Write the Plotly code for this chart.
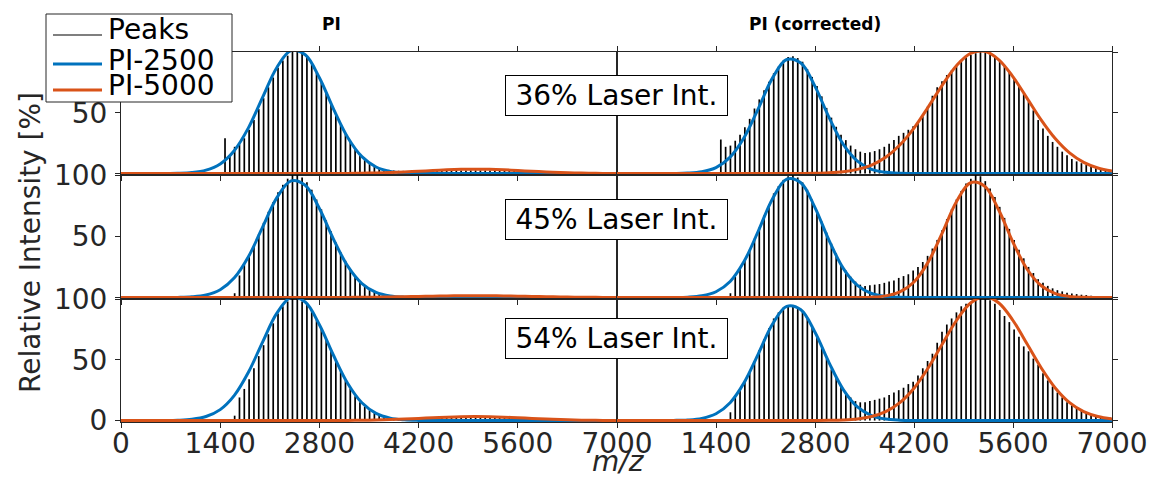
import plotly.graph_objects as go

# ---------------- data ----------------
mz = [1468, 1536, 1604, 1672, 1740, 1808, 1876, 1944, 2012, 2080,
      2148, 2216, 2284, 2352, 2420, 2488, 2556, 2624, 2692, 2760,
      2828, 2896, 2964, 3032, 3100, 3168, 3236, 3304, 3372, 3440,
      3508, 3576, 3644, 3712, 3780, 3848, 3916, 3984, 4052, 4120,
      4188, 4256, 4324, 4392, 4460, 4528, 4596, 4664, 4732, 4800,
      4868, 4936, 5004, 5072, 5140, 5208, 5276, 5344, 5412, 5480,
      5548, 5616, 5684, 5752, 5820, 5888, 5956, 6024, 6092, 6160,
      6228, 6296, 6364, 6432, 6500, 6568, 6636, 6704, 6772, 6840,
      6908, 6976]

peaks_36_pi = [29, 15, 22, 24, 29, 36, 44, 53, 62, 71,
               79, 87, 93, 97, 100, 100, 99, 96, 90, 83,
               75, 67, 58, 49, 41, 33, 26, 20.5, 15.5, 11.5,
               8.5, 6.2, 4.5, 3.5, 3, 2.5, 2.3, 2.2, 2, 2,
               2, 2.1, 2.2, 2.3, 2.4, 2.4, 2.5, 2.5, 2.6, 2.6,
               2.6, 2.6, 2.6, 2.6, 2.5, 2.5, 2.5, 2.4, 2.4, 2.3,
               2.2, 2.1, 2, 1.9, 1.8, 1.6, 0, 0, 0, 0,
               0, 0, 0, 0, 0, 0, 0, 0, 0, 0,
               0, 0]
peaks_36_cor = [28, 22, 23, 27, 32, 38, 45, 53.5, 61, 68.5,
                75.5, 82.5, 88, 93, 95.8, 96.5, 95, 92, 86, 79.5,
                72, 63.5, 54, 46, 38.5, 32, 27.5, 23, 20, 18,
                17, 17.5, 18.5, 20, 22, 24.5, 27.5, 31, 33.5, 36,
                39, 42, 47, 55, 64, 71, 76, 81, 85, 89,
                93, 95.5, 97.5, 99, 100, 99.5, 98, 96, 93, 89,
                84, 78, 72, 66, 59, 52, 44, 37, 31, 26,
                22, 18, 15, 12, 10, 8.5, 7, 6, 5, 4,
                3.5, 3]
peaks_45_pi = [0, 0, 3.5, 18, 27, 35, 43, 52, 61, 70,
               78, 86, 92, 97, 100, 100, 98, 94, 88, 80,
               72, 63, 54, 45, 37, 30, 23, 18, 13, 10,
               7, 5, 3.5, 2.5, 1.8, 1.2, 0, 0, 0, 0,
               0, 0, 0, 0, 0, 0, 0, 0, 0, 0,
               0, 0, 0, 0, 0, 0, 0, 0, 0, 0,
               0, 0, 0, 0, 0, 0, 0, 0, 0, 0,
               0, 0, 0, 0, 0, 0, 0, 0, 0, 0,
               0, 0]
peaks_45_cor = [0, 0, 3.5, 17, 24, 31, 39, 48, 57, 67,
                76, 85, 91, 96, 99, 100, 98, 94, 88, 80,
                71, 62, 53, 44, 36, 28, 22, 17, 13, 10.5,
                9.5, 10, 10.5, 11, 12, 13, 14, 16, 17.5, 19,
                22, 25, 29, 34, 40, 47, 55, 64, 72, 80,
                87, 93, 97, 100, 99, 95, 89, 82, 74, 65,
                56, 47, 39, 32, 25, 20, 15, 12, 9.5, 7.5,
                6, 5, 4, 3.3, 2.8, 2.3, 2, 1.5, 0, 0,
                0, 0]
peaks_54_pi = [0, 0, 4, 19, 26, 34, 43, 53, 62, 71,
               80, 88, 94, 98, 100, 100, 98, 95, 90, 83,
               76, 67, 58, 49, 41, 33, 26, 20, 15, 11.5,
               8.5, 6, 4.5, 3.2, 2.5, 2, 1.8, 1.6, 1.5, 1.5,
               1.5, 1.8, 2, 2.1, 2.2, 2.3, 2.4, 2.4, 2.5, 2.5,
               2.5, 2.5, 2.5, 2.5, 2.4, 2.4, 2.3, 2.3, 2.2, 2.1,
               2, 1.9, 1.8, 1.7, 1.6, 1.5, 0, 0, 0, 0,
               0, 0, 0, 0, 0, 0, 0, 0, 0, 0,
               0, 0]
peaks_54_cor = [0, 0, 6.8, 20, 25, 32, 40, 49, 58, 67,
                76, 84, 89, 93, 95, 95, 93, 90, 84, 77,
                69, 60, 51, 42, 35, 28, 23, 19, 16, 15,
                15, 16, 17, 18, 19, 21, 23, 25, 27, 30,
                32, 37, 43, 49, 55, 64, 73, 79, 84, 89,
                94, 96, 97, 99, 100, 100, 99, 96, 91, 86,
                81, 75, 69, 61, 57, 51, 46, 39, 33, 28,
                23, 19, 15, 12.5, 10, 8, 6, 5, 4.2, 3.4,
                2.8, 2.4]

# fitted curves, read every 200 m/z
cx = [0, 200, 400, 600, 800, 1000, 1200, 1400, 1600, 1800,
      2000, 2200, 2400, 2600, 2800, 3000, 3200, 3400, 3600, 3800,
      4000, 4200, 4400, 4600, 4800, 5000, 5200, 5400, 5600, 5800,
      6000, 6200, 6400, 6600, 6800, 7000]

fit2500_36_pi = [0, 0, 0.01, 0.04, 0.2, 0.8, 2.8, 7.9, 19, 37.8,
                 62.9, 87.3, 101.1, 97.7, 78.8, 53, 29.7, 13.9, 5.4, 1.8,
                 0.5, 0.1, 0, 0, 0, 0, 0, 0, 0, 0,
                 0, 0, 0, 0, 0, 0]
fit5000_36_pi = [0, 0, 0, 0, 0, 0, 0, 0, 0, 0,
                 0, 0, 0, 0, 0, 0.06, 0.13, 0.26, 0.49, 0.83,
                 1.3, 1.87, 2.49, 3.06, 3.46, 3.6, 3.46, 3.06, 2.49, 1.87,
                 1.3, 0.83, 0.49, 0.26, 0.13, 0.06]
fit2500_36_cor = [0, 0, 0, 0.01, 0.07, 0.36, 1.5, 4.9, 13.5, 29.8,
                  53.7, 78.7, 93.8, 90.9, 71.7, 46, 24, 10.2, 3.5, 1.0,
                  0.2, 0.04, 0, 0, 0, 0, 0, 0, 0, 0,
                  0, 0, 0, 0, 0, 0]
fit5000_36_cor = [0, 0, 0, 0, 0, 0, 0, 0, 0, 0,
                  0, 0, 0.02, 0.07, 0.2, 0.6, 1.5, 3.4, 7.0, 13.4,
                  23.5, 37.4, 54.6, 72.8, 88.7, 98.8, 100.6, 93.6, 79.6, 61.9,
                  44, 28.6, 17, 9.2, 4.6, 2.1]
fit2500_45_pi = [0, 0, 0, 0.02, 0.12, 0.56, 2.1, 6.4, 16.1, 33.5,
                 57.6, 81.5, 95.2, 91.6, 72.6, 47.5, 25.6, 11.4, 4.2, 1.3,
                 0.3, 0.06, 0, 0, 0, 0, 0, 0, 0, 0,
                 0, 0, 0, 0, 0, 0]
fit5000_45_pi = [0, 0, 0, 0, 0, 0, 0, 0, 0, 0,
                 0, 0, 0, 0, 0, 0.07, 0.12, 0.2, 0.32, 0.49,
                 0.69, 0.91, 1.13, 1.32, 1.45, 1.5, 1.45, 1.32, 1.13, 0.91,
                 0.69, 0.49, 0.32, 0.2, 0.12, 0.07]
fit2500_45_cor = [0, 0, 0, 0.01, 0.06, 0.32, 1.4, 4.7, 13.1, 29.8,
                  54.5, 80.7, 96.7, 93.7, 73.4, 46.5, 23.8, 9.9, 3.3, 0.9,
                  0.2, 0.04, 0, 0, 0, 0, 0, 0, 0, 0,
                  0, 0, 0, 0, 0, 0]
fit5000_45_cor = [0, 0, 0, 0, 0, 0, 0, 0, 0, 0,
                  0, 0, 0, 0, 0, 0, 0.01, 0.06, 0.31, 1.36,
                  4.56, 12.7, 28.9, 52.8, 78.2, 93.7, 90.8, 71.2, 45.1, 23.1,
                  9.6, 3.2, 0.87, 0.19, 0.04, 0]
fit2500_54_pi = [0, 0, 0.01, 0.06, 0.26, 1.0, 3.3, 9.0, 20.7, 39.9,
                 64.8, 88.4, 101.3, 97.5, 78.8, 53.5, 30.5, 14.6, 5.9, 2.0,
                 0.6, 0.13, 0.03, 0, 0, 0, 0, 0, 0, 0,
                 0, 0, 0, 0, 0, 0]
fit5000_54_pi = [0, 0, 0, 0, 0, 0, 0, 0, 0, 0,
                 0, 0, 0, 0, 0, 0.05, 0.12, 0.24, 0.45, 0.76,
                 1.19, 1.71, 2.28, 2.81, 3.17, 3.3, 3.17, 2.81, 2.28, 1.71,
                 1.19, 0.76, 0.45, 0.24, 0.12, 0.05]
fit2500_54_cor = [0, 0, 0, 0.02, 0.1, 0.46, 1.8, 5.6, 14.7, 31.4,
                  55.1, 79.4, 93.9, 91.1, 72.6, 47.5, 25.5, 11.2, 4.1, 1.2,
                  0.3, 0.06, 0, 0, 0, 0, 0, 0, 0, 0,
                  0, 0, 0, 0, 0, 0]
fit5000_54_cor = [0, 0, 0, 0, 0, 0, 0, 0, 0, 0,
                  0, 0, 0, 0, 0.04, 0.15, 0.47, 1.3, 3.3, 7.3,
                  14.7, 26.6, 43.2, 62.9, 82.3, 96.7, 102, 96.7, 82.3, 62.9,
                  43.2, 26.6, 14.7, 7.3, 3.3, 1.3]

xtick_vals = [0, 1400, 2800, 4200, 5600, 7000]
xtick_text_left = ["0", "1400", "2800", "4200", "5600", "7000"]
xtick_text_right = ["", "1400", "2800", "4200", "5600", "7000"]
ytick_vals = [0, 50, 100]
ytick_text_rows = [["", "50", ""], ["", "50", "100"], ["0", "50", "100"]]
row_labels = ["36% Laser Int.", "45% Laser Int.", "54% Laser Int."]
col_titles = ["PI", "PI (corrected)"]
legend_names = ["Peaks", "PI-2500", "PI-5000"]

panels = [  # (row, col, peaks, fit2500, fit5000)
    (0, 0, peaks_36_pi, fit2500_36_pi, fit5000_36_pi),
    (0, 1, peaks_36_cor, fit2500_36_cor, fit5000_36_cor),
    (1, 0, peaks_45_pi, fit2500_45_pi, fit5000_45_pi),
    (1, 1, peaks_45_cor, fit2500_45_cor, fit5000_45_cor),
    (2, 0, peaks_54_pi, fit2500_54_pi, fit5000_54_pi),
    (2, 1, peaks_54_cor, fit2500_54_cor, fit5000_54_cor),
]

# ---------------- style ----------------
W, H = 1149, 479
BLUE = "#0072BD"
ORANGE = "#D95319"
AX = "#262626"
FONT = "DejaVu Sans"


def fx(p):
    return p / W


def fy(p):
    return 1 - p / H


col_dom = [[fx(121), fx(617)], [fx(617), fx(1112)]]
row_dom = [[fy(175), fy(52)], [fy(299), fy(175)], [fy(422), fy(299)]]

fig = go.Figure()
layout = dict(
    width=W, height=H, margin=dict(l=0, r=0, t=0, b=0, autoexpand=False),
    paper_bgcolor="white", plot_bgcolor="white", showlegend=False,
    font=dict(family=FONT, size=28, color=AX),
)

for i, (r, c, pk, f1, f2) in enumerate(panels):
    n = i + 1
    xa = "x" if n == 1 else f"x{n}"
    ya = "y" if n == 1 else f"y{n}"
    sx, sy = [], []
    for m, h in zip(mz, pk):
        if h > 0:
            sx += [m, m, None]
            sy += [0, h, None]
    fig.add_trace(go.Scatter(x=sx, y=sy, mode="lines", xaxis=xa, yaxis=ya,
                             line=dict(color="black", width=1.7),
                             hoverinfo="skip"))
    fig.add_trace(go.Scatter(x=cx, y=f1, mode="lines", xaxis=xa, yaxis=ya,
                             line=dict(color=BLUE, width=3, shape="spline",
                                       smoothing=1.0),
                             hoverinfo="skip"))
    fig.add_trace(go.Scatter(x=cx, y=f2, mode="lines", xaxis=xa, yaxis=ya,
                             line=dict(color=ORANGE, width=3, shape="spline",
                                       smoothing=1.0),
                             hoverinfo="skip"))
    bottom = (r == 2)
    xaxis = dict(
        domain=col_dom[c], anchor=ya, range=[0, 7000], automargin=False,
        tickvals=xtick_vals,
        ticktext=(xtick_text_left if c == 0 else xtick_text_right),
        showticklabels=bottom, ticks="outside", ticklen=5, tickwidth=1,
        ticklabelstandoff=-9,
        tickcolor=AX, showline=True, linecolor=AX, linewidth=1, mirror=True,
        showgrid=False, zeroline=False,
        tickfont=dict(family=FONT, size=28, color=AX),
    )
    yaxis = dict(
        domain=row_dom[r], anchor=xa, range=[-1.2, 100], automargin=False,
        tickvals=ytick_vals, ticktext=ytick_text_rows[r],
        showticklabels=(c == 0), side=("left" if c == 0 else "right"),
        ticks="outside", ticklen=5, tickwidth=1, tickcolor=AX,
        ticklabelstandoff=2,
        showline=True, linecolor=AX, linewidth=1, mirror=True,
        showgrid=False, zeroline=False,
        tickfont=dict(family=FONT, size=28, color=AX),
    )
    layout["xaxis" if n == 1 else f"xaxis{n}"] = xaxis
    layout["yaxis" if n == 1 else f"yaxis{n}"] = yaxis

# top-edge outward ticks of the first row
for k, (base, ya) in enumerate([("x", "y"), ("x2", "y2")]):
    n = 7 + k
    layout[f"xaxis{n}"] = dict(
        overlaying=base, anchor=ya, side="top", range=[0, 7000],
        automargin=False,
        tickvals=xtick_vals, showticklabels=False, ticks="outside",
        ticklen=5, tickwidth=1, tickcolor=AX, showline=False,
        showgrid=False, zeroline=False,
    )
    fig.add_trace(go.Scatter(x=[None], y=[None], xaxis=f"x{n}", yaxis=ya,
                             mode="lines", hoverinfo="skip"))

annotations = []
shapes = []

# column titles
for t, xc in zip(col_titles, [331, 815]):
    annotations.append(dict(text=f"<b>{t}</b>", x=fx(xc), y=fy(24),
                            xref="paper", yref="paper", showarrow=False,
                            xanchor="center", yanchor="middle",
                            font=dict(family=FONT, size=17, color="black")))

# laser intensity labels
for t, yc in zip(row_labels, [96, 219, 338]):
    annotations.append(dict(text=t, x=fx(616.5), y=fy(yc), xref="paper",
                            yref="paper", showarrow=False, xanchor="center",
                            yanchor="middle", bgcolor="white",
                            bordercolor="black", borderwidth=1, borderpad=3,
                            width=215,
                            font=dict(family=FONT, size=28, color="black")))

# axis titles
annotations.append(dict(text="Relative Intensity [%]", x=fx(30), y=fy(243),
                        xref="paper", yref="paper", showarrow=False,
                        textangle=-90, xanchor="center", yanchor="middle",
                        font=dict(family=FONT, size=28, color=AX)))
annotations.append(dict(text="<i>m/z</i>", x=fx(618), y=fy(461),
                        xref="paper", yref="paper", showarrow=False,
                        xanchor="center", yanchor="middle",
                        font=dict(family=FONT, size=28, color=AX)))

# legend box
shapes.append(dict(type="rect", xref="paper", yref="paper",
                   x0=fx(46), x1=fx(232), y0=fy(102), y1=fy(14),
                   fillcolor="white", line=dict(color=AX, width=1),
                   layer="above"))
leg_styles = [("black", 1.2), (BLUE, 3), (ORANGE, 3)]
for name, (col, lw), ly, ty in zip(legend_names, leg_styles,
                                   [35, 64, 90], [30, 61, 85]):
    shapes.append(dict(type="line", xref="paper", yref="paper",
                       x0=fx(53), x1=fx(102), y0=fy(ly), y1=fy(ly),
                       line=dict(color=col, width=lw), layer="above"))
    annotations.append(dict(text=name, x=fx(106), y=fy(ty), xref="paper",
                            yref="paper", showarrow=False, xanchor="left",
                            yanchor="middle",
                            font=dict(family=FONT, size=28, color="black")))

layout["annotations"] = annotations
layout["shapes"] = shapes
fig.update_layout(**layout)
fig.write_html("out.html")
